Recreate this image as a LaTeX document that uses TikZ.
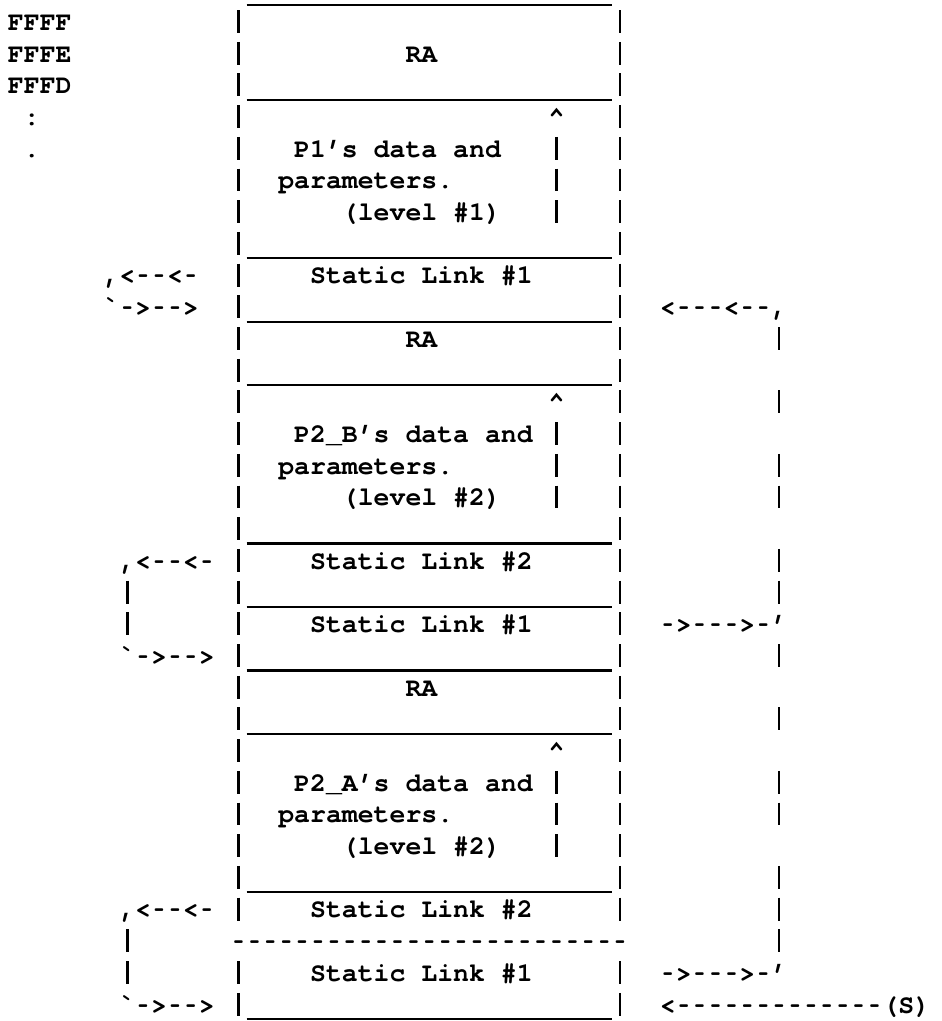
\documentclass[tikz,border=0pt]{standalone}
\usepackage{fontspec}
\usepackage{graphicx}
\setmonofont{texgyrecursor-bold.otf}
\tikzset{
  tt/.style={inner sep=0pt, outer sep=0pt, anchor=base west,
    font=\ttfamily\fontsize{26.5}{31.7}\selectfont},
  bar/.style={line width=2.5pt},
  seprule/.style={line width=2.3pt},
}
% a typed hyphen, kept to one character cell but drawn shorter
\newcommand\dsh{\makebox[0.6em][c]{\scalebox{0.62}[1]{-}}}
% one typed '|' in column #1 of line #2
\newcommand\vbar[2]{\draw[bar] (#1+0.5,#2-0.36) -- (#1+0.5,#2+0.36);}
% a run of underscores below line #1, columns 15..37
\newcommand\seprow[1]{\draw[seprule] (15,#1+0.47) -- (38,#1+0.47);}
% a line of text starting in column #2 of line #3
\newcommand\txt[4]{\node[tt] (#1) at (#2,#3+0.28) {#4};}
\begin{document}
\begin{tikzpicture}
\useasboundingbox (0pt,0pt) rectangle (942pt,-1021pt);
\begin{scope}[x=15.9pt,y=-31.7pt,shift={(8pt,10.2pt)}]
  % address column
  \txt{a1}{0}{1}{FFFF}
  \txt{a2}{0}{2}{FFFE}
  \txt{a3}{0}{3}{FFFD}
  \txt{a4}{1}{4}{:}
  \txt{a5}{1}{5}{.}

  % outer walls of the stack
  \foreach \r in {1,...,29,31,32} {\vbar{14}{\r}\vbar{38}{\r}}
  % separators between the frame slots
  \foreach \r in {0,3,8,10,12,17,19,21,23,28,32} {\seprow{\r}}

  % frame of P1
  \txt{ra1}{25}{2}{RA}
  \txt{up1}{34}{4}{\textasciicircum}
  \foreach \r in {5,6,7} {\vbar{34}{\r}}
  \txt{d1a}{18}{5}{P1’s data and}
  \txt{d1b}{17}{6}{parameters.}
  \txt{d1c}{21}{7}{(level \#1)}
  \txt{sl1}{19}{9}{Static Link \#1}

  % frame of P2_B
  \txt{ra2}{25}{11}{RA}
  \txt{up2}{34}{13}{\textasciicircum}
  \foreach \r in {14,15,16} {\vbar{34}{\r}}
  \txt{d2a}{18}{14}{P2\_B’s data and}
  \txt{d2b}{17}{15}{parameters.}
  \txt{d2c}{21}{16}{(level \#2)}
  \txt{sl22}{19}{18}{Static Link \#2}
  \txt{sl21}{19}{20}{Static Link \#1}

  % frame of P2_A
  \txt{ra3}{25}{22}{RA}
  \txt{up3}{34}{24}{\textasciicircum}
  \foreach \r in {25,26,27} {\vbar{34}{\r}}
  \txt{d3a}{18}{25}{P2\_A’s data and}
  \txt{d3b}{17}{26}{parameters.}
  \txt{d3c}{21}{27}{(level \#2)}
  \txt{sl32}{19}{29}{Static Link \#2}
  \txt{cut}{14}{30}{\foreach \i in {1,...,25}{\dsh}}
  \txt{sl31}{19}{31}{Static Link \#1}

  % static-link loops on the left
  \txt{la1}{6}{9}{,<\dsh\dsh<\dsh}
  \txt{lb1}{6}{10}{`\dsh>\dsh\dsh>}
  \txt{la2}{7}{18}{,<\dsh\dsh<\dsh}
  \txt{lb2}{7}{21}{`\dsh>\dsh\dsh>}
  \foreach \r in {19,20} {\vbar{7}{\r}}
  \txt{la3}{7}{29}{,<\dsh\dsh<\dsh}
  \txt{lb3}{7}{32}{`\dsh>\dsh\dsh>}
  \foreach \r in {30,31} {\vbar{7}{\r}}

  % static-link chain on the right
  \txt{rt}{41}{10}{<\dsh\dsh\dsh<\dsh\dsh,}
  \foreach \r in {11,13,15,16,18,19} {\vbar{48}{\r}}
  \txt{rm}{41}{20}{\dsh>\dsh\dsh\dsh>\dsh’}
  \foreach \r in {21,23,25,26,28,29,30} {\vbar{48}{\r}}
  \txt{rb}{41}{31}{\dsh>\dsh\dsh\dsh>\dsh’}
  \txt{sp}{41}{32}{<\foreach \i in {1,...,13}{\dsh}(S)}
\end{scope}
\end{tikzpicture}
\end{document}
